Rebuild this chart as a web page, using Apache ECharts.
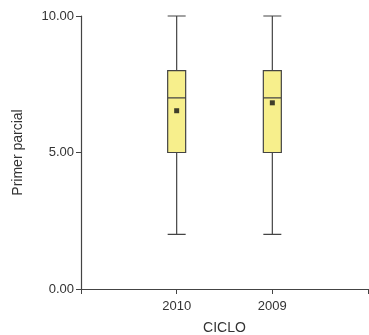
<!DOCTYPE html>
<html><head><meta charset="utf-8">
<script src="https://cdn.jsdelivr.net/npm/echarts@6/dist/echarts.min.js"></script>
<style>html,body{margin:0;padding:0;background:#fff}#c{width:369px;height:335px}</style>
</head><body><div id="c"></div>
<script>
var categories = ['', '2010', '2009', ''];
// [min, Q1, median, Q3, max]
var boxValues = [null, [2, 5, 7, 8, 10], [2, 5, 7, 8, 10], null];
var meanValues = [null, 6.53, 6.82, null];
var yTicks = [0, 5, 10];

var chart = echarts.init(document.getElementById('c'));
var font = 'Liberation Sans, Arial, sans-serif';
chart.setOption({
  animation: false,
  grid: {left: 81, right: 1, top: 16, bottom: 46, containLabel: false, outerBoundsMode: 'none'},
  xAxis: {
    type: 'category', data: categories, boundaryGap: false,
    name: 'CICLO', nameLocation: 'middle', nameGap: 32,
    nameTextStyle: {color: '#333', fontSize: 14, fontFamily: font},
    axisLine: {lineStyle: {color: '#444', width: 1.2}},
    axisTick: {show: true, length: 5, inside: false, alignWithLabel: true, lineStyle: {color: '#444'}},
    axisLabel: {color: '#333', fontSize: 13, fontFamily: font, margin: 11, interval: 0},
    splitLine: {show: false}
  },
  yAxis: {
    type: 'value', min: 0, max: 10, interval: 5,
    name: 'Primer parcial', nameLocation: 'middle', nameGap: 56,
    nameTextStyle: {color: '#333', fontSize: 14, fontFamily: font},
    axisLine: {show: true, lineStyle: {color: '#444', width: 1.2}},
    axisTick: {show: true, length: 5, lineStyle: {color: '#444'}},
    axisLabel: {color: '#333', fontSize: 13, fontFamily: font, margin: 7,
      formatter: function (v) { return yTicks.indexOf(v) >= 0 ? v.toFixed(2) : ''; }},
    splitLine: {show: false}
  },
  series: [{
    type: 'boxplot',
    data: boxValues.map(function (d) { return d ? d : '-'; }),
    boxWidth: [18, 18],
    itemStyle: {color: '#F7EF8C', borderColor: '#444', borderWidth: 1.2},
    emphasis: {disabled: true}
  }, {
    type: 'scatter',
    data: meanValues.map(function (d) { return d === null ? '-' : d; }),
    symbol: 'rect', symbolSize: 5,
    itemStyle: {color: '#111'}
  }]
});
</script></body></html>
